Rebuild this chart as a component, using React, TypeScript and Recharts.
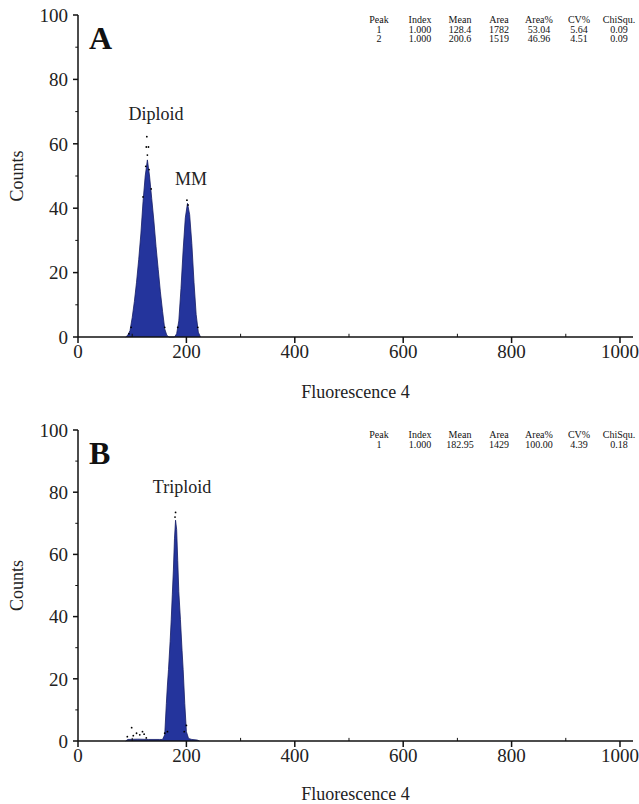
import React from "react";
import {
  ComposedChart,
  Area,
  Scatter,
  XAxis,
  YAxis,
  ReferenceLine,
} from "recharts";

// panel A: two peaks (diploid + MM)
const channelsA = [
  88, 92, 96, 100, 104, 108, 112, 116, 120, 124, 128, 132, 136, 140, 144, 148,
  152, 156, 160, 164, 168, 178, 182, 186, 190, 194, 198, 202, 206, 210, 214,
  218, 222, 226,
];
const countsA = [
  0, 0.6, 2, 6, 11, 17, 24, 32, 42, 50, 55, 50, 43, 36, 28, 21, 14, 8, 2.5,
  0.5, 0, 0, 1, 5, 15, 27, 37, 41.5, 38, 29, 17, 7, 1.5, 0,
];
const dotChA = [127, 126, 130, 128, 125, 131, 120, 135, 98, 94, 160, 201, 203, 184, 221];
const dotCountA = [62.2, 59, 59, 56.5, 53, 52, 43.5, 46, 3, 1, 3, 42.5, 41, 3, 3];

// panel B: triploid
const channelsB = [
  88, 92, 110, 130, 150, 156, 160, 163, 165, 167, 170, 172, 174, 176, 178, 180,
  182, 184, 186, 189, 192, 194, 197, 200, 204, 210, 220, 224,
];
const countsB = [
  0, 0.5, 0.6, 0.5, 0.5, 0.5, 2, 12, 18, 23, 32, 39, 47, 55, 65, 71, 68, 58,
  48, 39, 29, 23, 12, 3, 0.8, 0.5, 0.3, 0,
];
const dotChB = [91, 99, 102, 108, 114, 119, 122, 126, 180, 179, 200, 165, 196, 160];
const dotCountB = [1.4, 4.3, 1.7, 2.5, 2, 3, 2.2, 1, 73.5, 72, 5, 3, 3, 2.5];

const xTicks = [0, 200, 400, 600, 800, 1000];
const xMinor = [100, 300, 500, 700, 900];
const yTicks = [0, 20, 40, 60, 80, 100];
const yMinor = [10, 30, 50, 70, 90];

const statHeaders = ["Peak", "Index", "Mean", "Area", "Area%", "CV%", "ChiSqu."];
const statsA = [
  ["1", "1.000", "128.4", "1782", "53.04", "5.64", "0.09"],
  ["2", "1.000", "200.6", "1519", "46.96", "4.51", "0.09"],
];
const statsB = [["1", "1.000", "182.95", "1429", "100.00", "4.39", "0.18"]];

const colX = [379, 420, 460, 499, 539, 579, 619];
const FONT = '"Liberation Serif", "Times New Roman", serif';
const BLUE = "#24349c";

type PeakLabel = { text: string; x: number; y: number };

type PanelProps = {
  letter: string;
  channels: number[];
  counts: number[];
  dotCh: number[];
  dotCount: number[];
  stats: string[][];
  labels: PeakLabel[];
  height: number;
  top: number;
  bottom: number;
};

const Dot = (props: any) => (
  <circle cx={props.cx} cy={props.cy} r={0.9} fill="#000" />
);

const Panel = ({
  letter,
  channels,
  counts,
  dotCh,
  dotCount,
  stats,
  labels,
  height,
  top,
  bottom,
}: PanelProps) => {
  const data = channels.map((ch, i) => ({ ch, count: counts[i] }));
  const dots = dotCh.map((ch, i) => ({ ch, count: dotCount[i] }));
  const axisStyle = { fill: "#222", fontSize: 19, fontFamily: FONT };
  return (
    <div style={{ position: "relative", width: 639, height }}>
      <ComposedChart
        width={639}
        height={height}
        data={data}
        margin={{ top, right: 6, bottom: 0, left: 0 }}
      >
        <XAxis
          dataKey="ch"
          type="number"
          domain={[0, 1024]}
          ticks={xTicks}
          allowDataOverflow
          height={bottom}
          stroke="#111"
          strokeWidth={1.5}
          tickSize={6}
          tickMargin={2}
          tick={axisStyle}
          label={{
            value: "Fluorescence 4",
            position: "insideBottom",
            offset: 4,
            style: { ...axisStyle, fontSize: 18 },
          }}
        />
        <XAxis
          xAxisId="top"
          orientation="top"
          type="number"
          domain={[0, 1024]}
          height={0}
          tick={false}
          tickLine={false}
          stroke="#111"
          strokeWidth={1.5}
        />
        <YAxis
          type="number"
          domain={[0, 100]}
          ticks={yTicks}
          width={78}
          stroke="#111"
          strokeWidth={1.5}
          tickSize={5}
          tickMargin={5}
          tick={axisStyle}
          label={{
            value: "Counts",
            angle: -90,
            position: "insideLeft",
            offset: 17,
            style: { ...axisStyle, fontSize: 18, textAnchor: "middle" },
          }}
        />
        <YAxis
          yAxisId="right"
          orientation="right"
          type="number"
          domain={[0, 100]}
          width={0}
          tick={false}
          tickLine={false}
          stroke="#111"
          strokeWidth={2}
        />
        {xMinor.map((v) => (
          <ReferenceLine
            key={"xm" + v}
            segment={[
              { x: v, y: 0 },
              { x: v, y: 1 },
            ]}
            stroke="#111"
            strokeWidth={1}
            ifOverflow="visible"
          />
        ))}
        {yMinor.map((v) => (
          <ReferenceLine
            key={"ym" + v}
            segment={[
              { x: -5, y: v },
              { x: 0, y: v },
            ]}
            stroke="#111"
            strokeWidth={1}
            ifOverflow="visible"
          />
        ))}
        <Area
          type="linear"
          dataKey="count"
          fill={BLUE}
          fillOpacity={1}
          stroke="#151d66"
          strokeWidth={0.8}
          isAnimationActive={false}
        />
        <Scatter
          data={dots}
          dataKey="count"
          shape={Dot}
          isAnimationActive={false}
        />
      </ComposedChart>
      <div
        style={{
          position: "absolute",
          left: 89,
          top: top + 7,
          fontFamily: FONT,
          fontWeight: "bold",
          fontSize: 32,
          lineHeight: "32px",
          color: "#111",
        }}
      >
        {letter}
      </div>
      {labels.map((l) => (
        <div
          key={l.text}
          style={{
            position: "absolute",
            left: l.x - 50,
            width: 100,
            top: l.y - 10,
            textAlign: "center",
            fontFamily: FONT,
            fontSize: 18,
            lineHeight: "20px",
            color: "#222",
          }}
        >
          {l.text}
        </div>
      ))}
      {[statHeaders, ...stats].map((row, r) =>
        row.map((cell, c) => (
          <div
            key={r + "-" + c}
            style={{
              position: "absolute",
              left: colX[c] - 30,
              width: 60,
              top: top + 0 + r * 9.5,
              textAlign: "center",
              fontFamily: FONT,
              fontSize: 10,
              lineHeight: "10px",
              color: "#111",
            }}
          >
            {cell}
          </div>
        ))
      )}
    </div>
  );
};

export default function App() {
  return (
    <div
      style={{
        position: "absolute",
        left: 0,
        top: 0,
        width: 639,
        height: 804,
        background: "#fff",
      }}
    >
      <Panel
        letter="A"
        channels={channelsA}
        counts={countsA}
        dotCh={dotChA}
        dotCount={dotCountA}
        stats={statsA}
        labels={[
          { text: "Diploid", x: 156, y: 114 },
          { text: "MM", x: 191, y: 179 },
        ]}
        height={402}
        top={15}
        bottom={65}
      />
      <Panel
        letter="B"
        channels={channelsB}
        counts={countsB}
        dotCh={dotChB}
        dotCount={dotCountB}
        stats={statsB}
        labels={[{ text: "Triploid", x: 182, y: 487 - 402 }]}
        height={402}
        top={28}
        bottom={63}
      />
    </div>
  );
}
